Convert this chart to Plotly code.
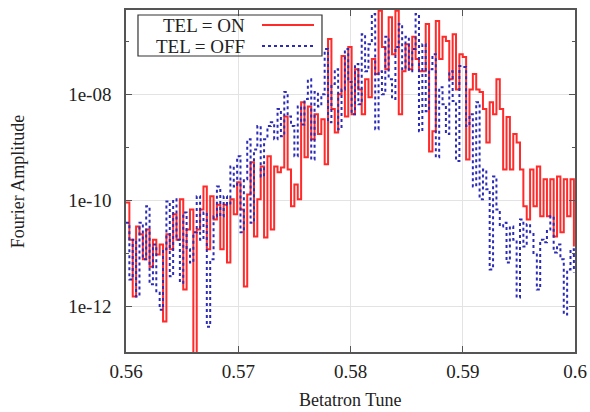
import numpy as np
import plotly.graph_objects as go

# Betatron tune grid (FFT bins)
tune = [round(0.56 + 0.0003 * i, 4) for i in range(134)]

# log10 of Fourier amplitude
tel_on_log = [
    -10.04, -10.74, -11.81, -10.49, -10.64, -11.11, -10.55, -11.25, -10.74, -11.02,
    -10.83, -12.28, -10.64, -10.92, -10.26, -10.74, -9.98, -11.68, -10.55, -10.17,
    -13.20, -10.55, -10.17, -9.74, -10.92, -9.92, -10.36, -10.08, -10.92, -10.08,
    -11.17, -9.98, -10.26, -9.66, -10.17, -11.62, -9.89, -9.28, -10.68, -9.98,
    -9.36, -10.70, -9.17, -10.55, -9.36, -9.47, -9.38, -8.42, -9.42, -10.11,
    -9.70, -9.98, -8.15, -9.19, -8.23, -8.85, -8.38, -8.75, -8.47, -9.32,
    -6.96, -8.28, -8.72, -8.00, -7.28, -8.42, -7.11, -8.38, -7.53, -7.91,
    -8.38, -7.72, -8.06, -7.34, -7.62, -6.43, -7.11, -7.53, -6.55, -7.25,
    -6.43, -8.38, -7.57, -7.06, -7.53, -6.92, -7.34, -7.57, -7.57, -6.68,
    -9.08, -8.70, -6.62, -7.34, -6.92, -7.00, -7.72, -6.87, -7.91, -7.25,
    -7.30, -9.23, -7.91, -7.62, -7.91, -7.96, -8.28, -8.91, -8.15, -8.38,
    -7.72, -8.28, -9.42, -8.43, -9.42, -8.75, -8.91, -9.42, -10.11, -10.36,
    -9.42, -10.11, -9.36, -10.30, -9.60, -10.30, -9.60, -10.68, -9.55, -10.60,
    -9.60, -10.30, -9.60, -10.87,
]

tel_off_log = [
    -10.42, -11.49, -10.74, -11.81, -10.42, -11.11, -10.11, -11.58, -10.83, -11.74,
    -12.06, -10.92, -10.02, -11.43, -9.98, -10.74, -11.55, -10.23, -10.92, -11.17,
    -10.60, -9.92, -10.74, -10.23, -12.38, -11.11, -10.30, -9.74, -10.30, -9.92,
    -10.08, -9.36, -9.74, -9.17, -10.60, -9.60, -8.85, -10.42, -9.04, -8.60,
    -9.55, -8.85, -8.60, -8.53, -8.85, -8.28, -8.79, -7.96, -8.42, -8.60,
    -9.17, -8.23, -8.57, -8.09, -7.72, -9.23, -7.96, -8.23, -8.00, -7.15,
    -8.53, -7.81, -7.53, -8.66, -7.91, -7.15, -7.77, -8.38, -7.43, -8.19,
    -6.87, -7.57, -7.06, -6.49, -8.66, -7.57, -8.00, -6.92, -7.72, -8.09,
    -7.11, -6.68, -7.53, -6.92, -7.57, -7.15, -6.49, -8.70, -7.06, -8.32,
    -7.53, -7.25, -9.19, -7.87, -8.19, -8.75, -7.57, -8.13, -9.26, -7.47,
    -7.49, -8.60, -8.38, -9.74, -8.15, -9.98, -9.42, -9.79, -11.30, -9.55,
    -10.17, -10.49, -10.42, -11.17, -10.49, -10.74, -11.83, -10.36, -10.87, -10.45,
    -10.60, -11.02, -11.68, -10.74, -10.79, -10.55, -10.30, -10.98, -10.83, -11.11,
    -12.15, -11.30, -10.92, -11.36,
]

tel_on = [10 ** v for v in tel_on_log]
tel_off = [10 ** v for v in tel_off_log]

x_ticks = [0.56, 0.57, 0.58, 0.59, 0.60]
x_tick_text = ["0.56", "0.57", "0.58", "0.59", "0.6"]
y_ticks = [1e-12, 1e-10, 1e-08]
y_tick_text = ["1e-12", "1e-10", "1e-08"]
y_minor_ticks = [1e-13, 1e-11, 1e-09, 1e-07]

RED = "#ff2a2a"
BLUE = "#2b2bb8"
FONT = "Liberation Serif"

fig = go.Figure()
fig.add_trace(go.Scatter(x=tune, y=tel_on, mode="lines", line_shape="hv",
                         line=dict(color=RED, width=2), name="TEL = ON"))
fig.add_trace(go.Scatter(x=tune, y=tel_off, mode="lines", line_shape="hv",
                         line=dict(color=BLUE, width=2, dash="dot"), name="TEL = OFF"))

axis_common = dict(
    showline=True, linecolor="#555555", linewidth=1.5, mirror="ticks",
    ticks="inside", ticklen=6, tickcolor="#555555",
    showgrid=True, gridcolor="#e3e3e3", gridwidth=1, zeroline=False,
    automargin=False,
    tickfont=dict(family=FONT, size=19, color="#222222"),
)

fig.update_layout(
    width=590, height=412, autosize=False,
    margin=dict(l=126, r=15, t=10, b=60, autoexpand=False),
    paper_bgcolor="white", plot_bgcolor="white",
    showlegend=False,
    xaxis=dict(range=[0.56, 0.60], tickvals=x_ticks, ticktext=x_tick_text,
               ticklabelstandoff=1, **axis_common),
    yaxis=dict(type="log", range=[-12.855, -6.415], tickvals=y_ticks,
               ticktext=y_tick_text, ticklabelstandoff=9,
               minor=dict(tickvals=y_minor_ticks, ticks="inside", ticklen=3,
                          tickcolor="#555555", showgrid=False),
               **axis_common),
)

# axis titles
fig.add_annotation(text="Betatron Tune", xref="paper", yref="paper", x=0.5, y=-0.1404,
                   xanchor="center", yanchor="middle", showarrow=False,
                   font=dict(family=FONT, size=18, color="#222222"))
fig.add_annotation(text="Fourier Amplitude", xref="paper", yref="paper", x=-0.24, y=0.5,
                   xanchor="center", yanchor="middle", textangle=-90, showarrow=False,
                   font=dict(family=FONT, size=18, color="#222222"))

# key box (gnuplot style: text then sample line)
fig.add_shape(type="rect", xref="paper", yref="paper", x0=0.0267, x1=0.4365,
              y0=0.8655, y1=0.9854, line=dict(color="#333333", width=1.2),
              fillcolor="rgba(255,255,255,0)")
legend_rows = [("TEL = ON", RED, "solid", 0.9561), ("TEL = OFF", BLUE, "dot", 0.8947)]
for label, col, dash, yy in legend_rows:
    fig.add_annotation(text=label, xref="paper", yref="paper", x=0.2695, y=yy,
                       xanchor="right", yanchor="middle", showarrow=False,
                       font=dict(family=FONT, size=19, color="#222222"))
    fig.add_shape(type="line", xref="paper", yref="paper", x0=0.3029, x1=0.4187,
                  y0=yy, y1=yy, line=dict(color=col, width=2, dash=dash))

# remove the page's default body margin so the figure fills the window exactly
fig.write_html("out.html",
               config={"responsive": False, "displayModeBar": False},
               post_script="document.body.style.margin='0';document.body.style.overflow='hidden';")
